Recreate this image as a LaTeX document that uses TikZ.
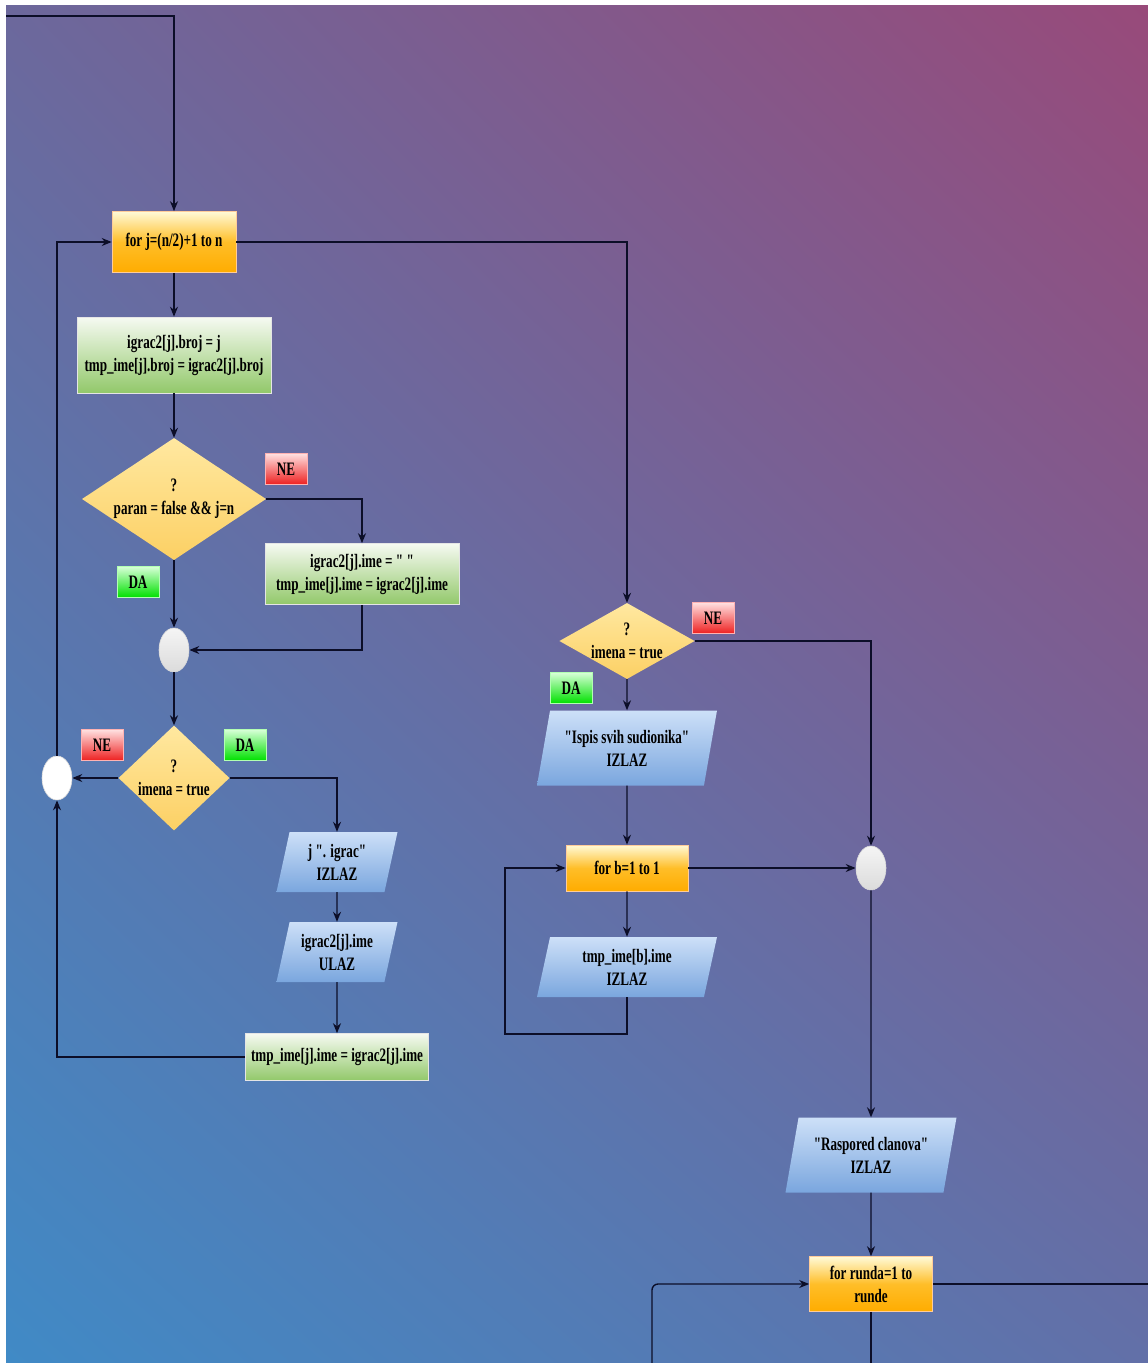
\documentclass[tikz,border=0pt]{standalone}
\usepackage{fontspec}
\setmainfont{Liberation Serif}[FakeStretch=0.69, Ligatures=TeXOff]
\usetikzlibrary{shapes.geometric,arrows.meta,shadings}

\definecolor{bgUL}{RGB}{108,104,156}
\definecolor{bgUR}{RGB}{152,74,122}
\definecolor{bgLL}{RGB}{64,138,198}
\definecolor{bgLR}{RGB}{98,112,168}
\definecolor{linec}{RGB}{12,14,40}
\definecolor{forTop}{RGB}{255,250,215}
\definecolor{forMid}{RGB}{255,190,40}
\definecolor{forBot}{RGB}{255,172,0}
\definecolor{asgTop}{RGB}{246,250,242}
\definecolor{asgBot}{RGB}{146,200,106}
\definecolor{decTop}{RGB}{255,232,160}
\definecolor{decBot}{RGB}{252,208,100}
\definecolor{ioTop}{RGB}{205,224,248}
\definecolor{ioBot}{RGB}{122,166,222}
\definecolor{neTop}{RGB}{255,225,225}
\definecolor{neBot}{RGB}{238,32,32}
\definecolor{daTop}{RGB}{215,255,215}
\definecolor{daBot}{RGB}{0,225,0}

\begin{document}
\begin{tikzpicture}[x=1pt,y=-1pt,
    every node/.style={font=\fontsize{19}{23}\selectfont\bfseries, align=center, text=black},
    line/.style={draw=linec, line width=1.4pt},
    arr/.style={line, -{Stealth[length=10pt,width=8pt]}},
    forbox/.style={rectangle, draw=white!60!orange, line width=0.6pt, top color=forTop, bottom color=forBot, middle color=forMid, inner sep=2pt},
    asgbox/.style={rectangle, draw=white!80!gray, line width=0.6pt, top color=asgTop, bottom color=asgBot, inner sep=2pt},
    decbox/.style={diamond, top color=decTop, bottom color=decBot, inner sep=0pt},
    iobox/.style={trapezium, trapezium left angle=72, trapezium right angle=108, trapezium stretches body, top color=ioTop, bottom color=ioBot, inner sep=2pt},
    joinpt/.style={ellipse, draw=white!70!gray, line width=0.6pt, top color=white!92!gray, bottom color=white!72!gray, minimum width=30pt, minimum height=44pt, inner sep=0pt},
    nelbl/.style={rectangle, draw=white!70!red, line width=0.6pt, top color=neTop, bottom color=neBot, minimum width=42pt, minimum height=31pt, inner sep=0pt},
    dalbl/.style={rectangle, draw=white!70!green, line width=0.6pt, top color=daTop, bottom color=daBot, minimum width=42pt, minimum height=31pt, inner sep=0pt}
]
    % Background
    \useasboundingbox (0,0) rectangle (1148,1363);
    \fill[white] (0,0) rectangle (1148,1363);
    \shade[upper left=bgUL, upper right=bgUR, lower left=bgLL, lower right=bgLR] (6,5) rectangle (1148,1363);

    % Left part: loop over j
    \node[forbox, minimum width=124pt, minimum height=61pt] (forj) at (174,242) {for j=(n/2)+1 to n};
    \node[asgbox, minimum width=194pt, minimum height=76pt] (brojset) at (174,355) {igrac2[j].broj = j\\tmp\_ime[j].broj = igrac2[j].broj};
    \node[decbox, minimum width=184pt, minimum height=122pt, aspect=1.5] (parandec) at (174,499) {?\\paran = false \&\& j=n};
    \node[asgbox, minimum width=194pt, minimum height=61pt] (imeset) at (362,574) {igrac2[j].ime = " "\\tmp\_ime[j].ime = igrac2[j].ime};
    \node[joinpt] (parjoin) at (174,650) {};
    \node[decbox, minimum width=111pt, minimum height=105pt, aspect=1.06] (imenadec) at (174,778) {?\\imena = true};
    \node[joinpt, top color=white, bottom color=white] (loopjoin) at (57,778) {};
    \node[iobox, minimum width=121pt, minimum height=60pt] (igracout) at (337,862) {j ". igrac"\\IZLAZ};
    \node[iobox, minimum width=121pt, minimum height=60pt] (imein) at (337,952) {igrac2[j].ime\\ULAZ};
    \node[asgbox, minimum width=183pt, minimum height=47pt] (tmpset) at (337,1057) {tmp\_ime[j].ime = igrac2[j].ime};

    \node[nelbl] at (286,469) {NE};
    \node[dalbl] at (138,582) {DA};
    \node[nelbl] at (102,745) {NE};
    \node[dalbl] at (245,745) {DA};

    % Right part: listing
    \node[decbox, minimum width=132pt, minimum height=74pt, aspect=1.78] (listdec) at (627,641) {?\\imena = true};
    \node[iobox, minimum width=180pt, minimum height=75pt] (ispisout) at (627,748) {"Ispis svih sudionika"\\IZLAZ};
    \node[forbox, minimum width=122pt, minimum height=46pt] (forb) at (627,868) {for b=1 to 1};
    \node[iobox, minimum width=180pt, minimum height=60pt] (tmpout) at (627,967) {tmp\_ime[b].ime\\IZLAZ};
    \node[joinpt] (listjoin) at (871,868) {};
    \node[iobox, minimum width=171pt, minimum height=75pt] (rasporedout) at (871,1155) {"Raspored clanova"\\IZLAZ};
    \node[forbox, minimum width=123pt, minimum height=55pt] (forrunda) at (871,1284) {for runda=1 to\\runde};

    \node[nelbl] at (713,618) {NE};
    \node[dalbl] at (571,688) {DA};

    % Free ends at the edges
    \coordinate (topin) at (6,16);
    \coordinate (bloop) at (505,1034);
    \coordinate (rundain) at (652,1363);
    \coordinate (rundaout) at (1148,1284);
    \coordinate (rundadown) at (871,1363);

    % Connectors
    \draw[arr] (topin) -| (forj.north);
    \draw[arr] (forj) -- (brojset);
    \draw[arr] (brojset) -- (parandec);
    \draw[arr] (parandec.east) -| (imeset.north);
    \draw[arr] (parandec.south) -- (parjoin.north);
    \draw[arr] (imeset.south) |- (parjoin.east);
    \draw[arr] (parjoin.south) -- (imenadec.north);
    \draw[arr] (imenadec.west) -- (loopjoin.east);
    \draw[arr] (imenadec.east) -| (igracout.north);
    \draw[arr] (igracout) -- (imein);
    \draw[arr] (imein) -- (tmpset);
    \draw[arr] (tmpset.west) -| (loopjoin.south);
    \draw[arr] (loopjoin.north) |- (forj.west);
    \draw[arr] (forj.east) -| (listdec.north);
    \draw[arr] (listdec.east) -| (listjoin.north);
    \draw[arr] (listdec.south) -- (ispisout.north);
    \draw[arr] (ispisout.south) -- (forb.north);
    \draw[arr] (forb.south) -- (tmpout.north);
    \draw[arr] (forb.east) -- (listjoin.west);
    \draw[arr] (tmpout.south) |- (bloop) |- (forb.west);
    \draw[arr] (listjoin.south) -- (rasporedout.north);
    \draw[arr] (rasporedout.south) -- (forrunda.north);
    \draw[arr, rounded corners=6pt] (rundain) |- (forrunda.west);
    \draw[line] (forrunda.east) -- (rundaout);
    \draw[line] (forrunda.south) -- (rundadown);
\end{tikzpicture}
\end{document}
